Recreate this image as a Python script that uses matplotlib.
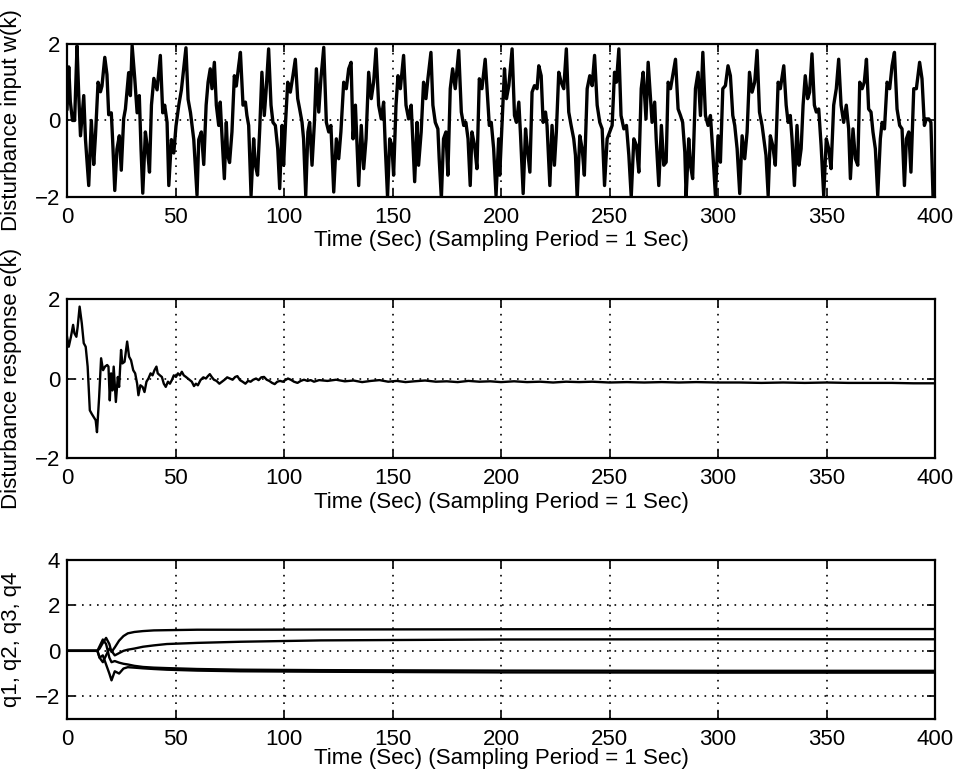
import matplotlib.pyplot as plt

plt.rcParams['font.family'] = ['Liberation Sans', 'DejaVu Sans']
plt.rcParams['font.size'] = 16

# disturbance input w(k) (peaks / troughs / bends)
w_time = [0, 0.8, 1.5, 2.5, 3.5, 4.6, 5.4, 6.2, 7.7, 8.5,
          10.0, 11.2, 12.3, 13.1, 14.3, 15.4, 16.1, 17.4, 18.4, 19.2,
          20.4, 21.0, 22.0, 23.0, 24.1, 25.0, 26.1, 26.9, 27.7, 28.4,
          29.2, 30.0, 31.2, 32.3, 33.3, 34.1, 34.9, 36.1, 36.9, 38.0,
          38.9, 40.0, 41.5, 43.0, 44.1, 45.0, 46.1, 46.9, 48.1, 49.2,
          50.2, 51.5, 52.7, 54.8, 55.8, 56.9, 58.4, 59.9, 60.7, 61.9,
          63.0, 64.1, 65.0, 66.0, 66.8, 67.9, 68.8, 69.9, 70.6, 71.4,
          72.5, 73.4, 74.0, 74.9, 76.0, 77.1, 78.0, 79.1, 79.9, 81.1,
          82.2, 82.9, 83.7, 84.8, 86.0, 86.8, 87.8, 88.8, 89.8, 90.9,
          91.8, 92.9, 94.0, 94.9, 96.0, 97.1, 98.0, 99.1, 99.8, 100.7,
          101.7, 102.9, 104.1, 105.2, 106.3, 107.2, 108.3, 109.0, 110.0, 111.0,
          111.8, 112.9, 114.0, 114.9, 116.0, 117.0, 118.3, 119.5, 120.6, 121.6,
          122.9, 124.1, 125.2, 126.2, 127.5, 128.7, 129.8, 130.9, 131.8, 132.9,
          134.4, 135.6, 136.7, 137.8, 139.0, 140.2, 141.3, 142.4, 143.6, 144.8,
          145.9, 146.7, 147.7, 148.7, 149.7, 150.5, 151.6, 152.5, 153.6, 155.1,
          156.2, 157.4, 158.6, 159.3, 160.2, 161.3, 162.0, 163.2, 164.3, 165.4,
          166.3, 167.7, 168.6, 169.7, 170.9, 171.5, 172.5, 173.5, 174.6, 175.5,
          176.6, 177.7, 178.9, 180.5, 181.7, 182.8, 183.8, 184.8, 185.8, 186.6,
          187.8, 188.9, 190.0, 191.2, 192.7, 194.0, 194.6, 195.5, 196.6, 197.7,
          198.9, 199.4, 200.5, 201.6, 202.5, 203.6, 205.1, 206.2, 207.1, 208.2,
          209.0, 210.2, 211.3, 212.0, 213.3, 214.3, 215.4, 216.6, 217.4, 218.5,
          219.4, 220.5, 221.2, 222.5, 223.5, 224.6, 225.5, 226.6, 227.7, 228.9,
          230.1, 231.2, 232.3, 233.5, 234.3, 235.1, 236.3, 237.4, 238.4, 239.7,
          240.9, 242.0, 243.1, 244.3, 245.5, 246.6, 247.7, 248.9, 250.1, 251.2,
          252.3, 253.2, 254.3, 255.3, 256.6, 257.8, 258.9, 260.0, 261.2, 262.4,
          263.5, 264.6, 265.5, 266.8, 267.8, 268.8, 269.6, 270.8, 271.5, 272.7,
          273.9, 275.0, 276.1, 277.0, 278.1, 279.1, 280.4, 281.6, 282.7, 283.7,
          284.7, 285.3, 286.5, 287.3, 288.3, 289.6, 290.8, 291.9, 293.0, 294.2,
          295.4, 296.5, 297.6, 298.8, 300.0, 301.1, 302.2, 303.4, 304.6, 305.7,
          306.8, 307.7, 308.8, 310.0, 311.1, 312.3, 313.4, 314.5, 315.7, 316.9,
          318.0, 319.1, 320.3, 321.1, 322.1, 323.1, 324.1, 325.2, 326.4, 327.7,
          328.7, 330.3, 331.4, 332.3, 333.3, 334.1, 335.2, 336.4, 337.3, 338.3,
          339.2, 340.2, 341.3, 342.2, 343.3, 344.4, 345.3, 346.4, 347.5, 348.7,
          349.9, 351.0, 352.1, 353.3, 354.5, 355.6, 356.7, 357.9, 359.1, 360.2,
          361.0, 362.2, 363.3, 364.4, 365.3, 366.4, 367.4, 368.4, 369.4, 370.5,
          371.4, 372.5, 373.6, 374.8, 375.6, 376.7, 377.9, 379.1, 380.2, 381.3,
          382.5, 383.7, 384.8, 385.9, 386.8, 387.9, 388.9, 390.2, 391.4, 392.9,
          394.0, 395.1, 396.0, 397.1, 398.1, 399.1, 400.0]
w_value = [0.3, 1.4, 0.5, 0.0, 0.0, 1.95, 0.65, -0.4, 0.65, -0.5,
           -1.7, 0.0, -1.15, -0.4, 1.0, 0.75, 0.9, 1.65, 1.2, 0.15,
           0.2, -0.5, -1.83, -0.75, -0.4, -1.3, 0.05, 0.3, 0.8, 1.25,
           0.65, 1.96, 1.1, 0.2, 0.65, -0.75, -1.9, -0.3, -0.65, -1.35,
           0.4, 1.1, 0.8, 1.7, 0.2, 0.4, -0.05, -1.7, -0.5, -0.85,
           -0.15, 0.4, 0.8, 1.9, 0.55, 0.2, -0.5, -1.95, -0.5, -0.3,
           -1.15, 0.4, 1.0, 1.35, 0.83, 1.52, 0.4, -0.13, 0.48, -0.4,
           -1.52, -0.05, -0.9, -1.1, -0.3, 1.17, 0.9, 1.43, 1.78, 0.4,
           0.48, 0.13, -0.13, -1.96, -0.48, -1.17, -1.43, -0.22, 1.26, 0.13,
           0.83, 1.87, 0.4, -0.05, -0.13, -0.74, -1.78, -0.13, -1.17, -0.05,
           1.0, 0.74, 1.17, 1.6, 0.57, 0.3, -0.05, -0.48, -1.96, -0.3,
           -0.05, -1.17, -0.05, 1.35, 0.22, 1.09, 1.91, -0.05, -0.3, -0.13,
           -1.87, -0.48, -1.0, -0.3, 1.0, 0.83, 1.35, 1.52, -0.48, 0.4,
           -1.7, -0.13, -1.26, -0.48, 1.26, 0.57, 1.0, 1.87, 0.4, 0.04,
           0.48, -0.74, -2.0, -0.48, -0.65, -1.43, 0.4, 1.17, 0.83, 1.7,
           0.4, 0.04, 0.4, -0.48, -1.6, -0.05, -1.17, -0.3, 1.0, 0.57,
           1.09, 1.78, 0.4, -0.05, -0.22, -1.0, -2.04, -0.48, -0.3, -1.43,
           0.83, 1.35, 0.83, 1.83, 0.22, -0.13, -0.05, -0.48, -1.7, -0.3,
           -0.65, -1.26, 1.09, 0.83, 1.6, 0.4, -0.13, -0.05, -0.74, -1.96,
           -0.48, -1.43, -0.05, 1.35, 0.57, 0.91, 1.87, 0.13, -0.05, 0.48,
           -0.4, -1.91, -0.22, -0.65, -1.35, 0.74, 0.91, 0.83, 1.43, 1.17,
           -0.05, 0.22, -0.13, -1.7, -0.13, -1.17, -0.3, 1.26, 1.0, 0.83,
           1.87, 0.22, -0.13, -0.48, -0.91, -2.04, -0.4, -0.74, -1.43, 0.83,
           1.17, 0.91, 1.7, 0.4, -0.05, -0.22, -1.7, -0.48, -0.3, -0.13,
           1.26, 1.0, 1.87, 0.13, -0.22, -0.13, -0.91, -2.0, -0.48, -0.65,
           -1.35, 0.83, 1.26, 0.04, 1.52, 0.65, -0.05, 0.48, -0.48, -1.7,
           -0.13, -1.17, -1.09, 1.0, 0.83, 1.17, 1.6, 0.3, 0.13, -0.05,
           -0.83, -2.0, -0.48, -1.17, -1.52, 0.83, 1.26, 0.13, 1.78, 0.13,
           -0.13, 0.13, -0.83, -1.96, -0.4, -1.09, 0.83, 0.91, 1.43, 1.17,
           0.13, -0.13, -0.74, -1.91, -0.4, -1.0, -0.3, 1.26, 0.74, 1.0,
           1.83, 0.22, -0.13, -0.48, -0.91, -1.96, -0.4, -0.65, -1.17, 1.0,
           0.83, 1.43, 0.4, -0.05, 0.13, -0.48, -1.7, -0.13, -1.17, -0.74,
           0.4, 1.17, 0.57, 0.74, 1.74, 0.4, 0.22, 0.3, -0.65, -1.96,
           -0.48, -0.74, -1.26, 0.4, 0.83, 1.6, 0.4, -0.05, 0.4, -0.22,
           -1.52, -0.22, -1.0, -1.17, 1.0, 0.83, 1.0, 1.6, 0.3, 0.22,
           -0.3, -0.74, -1.96, -0.48, -0.05, -0.22, 1.0, 0.83, 1.43, 1.78,
           0.3, -0.13, -0.22, -1.7, -0.48, -0.3, -1.35, 0.83, 0.83, 1.52,
           1.09, -0.13, 0.04, 0.04, -0.05, -2.04, -2.0]

# disturbance response e(k)
e_time = [0, 0.8, 1.8, 2.8, 3.4, 4.3, 4.9, 5.8, 6.8, 7.7,
          8.6, 9.5, 10.5, 11.4, 12.3, 13.2, 13.8, 14.8, 15.7, 16.6,
          17.5, 18.5, 19.1, 19.7, 20.3, 20.9, 21.5, 22.5, 23.4, 24.0,
          24.9, 25.5, 26.5, 27.7, 28.6, 29.5, 30.5, 31.4, 32.3, 32.9,
          33.8, 34.8, 35.7, 36.6, 37.5, 38.5, 39.4, 40.3, 41.2, 41.8,
          42.8, 43.7, 44.6, 45.5, 46.5, 47.4, 48.3, 49.2, 50.2, 51.1,
          52.0, 52.9, 53.8, 54.8, 55.7, 56.6, 57.5, 58.5, 59.4, 60.3,
          61.5, 62.8, 64.0, 64.9, 65.8, 66.8, 67.7, 68.9, 70.2, 71.4,
          72.6, 73.8, 75.1, 76.3, 77.5, 78.5, 79.7, 80.9, 82.2, 83.4,
          84.6, 85.8, 87.1, 88.3, 89.5, 90.8, 92.0, 93.2, 94.5, 95.7,
          96.9, 98.2, 99.4, 100.6, 101.8, 103.1, 104.6, 106.2, 107.7, 109.2,
          110.8, 112.3, 113.8, 116.2, 120, 124, 128, 132, 136, 140,
          144, 148, 152, 156, 160, 165, 170, 175, 180, 185,
          190, 195, 200, 206, 212, 218, 224, 230, 236, 242,
          250, 258, 266, 274, 282, 290, 300, 310, 320, 330,
          340, 350, 360, 370, 380, 390, 400]
e_value = [1.05, 0.8, 1.05, 1.35, 1.14, 1.05, 1.3, 1.81, 1.39, 0.89,
           0.8, 0.3, -0.8, -0.89, -0.97, -1.05, -1.35, -0.46, 0.51, 0.21,
           0.3, 0.34, 0.3, -0.55, 0.13, -0.3, 0.3, -0.59, 0.04, -0.21,
           0.72, 0.38, 0.42, 0.93, 0.55, 0.46, 0.21, 0.13, -0.13, -0.42,
           -0.17, -0.21, -0.34, -0.08, 0.0, 0.13, 0.08, 0.21, 0.3, 0.13,
           0.08, 0.04, -0.13, -0.21, -0.08, -0.13, -0.04, 0.08, 0.04, 0.13,
           0.08, 0.17, 0.08, 0.04, 0.0, -0.04, -0.08, -0.19, -0.13, -0.17,
           -0.04, 0.03, 0.0, 0.06, 0.11, 0.03, -0.03, -0.06, -0.13, -0.08,
           -0.03, 0.03, 0.0, -0.03, 0.04, 0.06, -0.04, -0.08, -0.13, -0.06,
           -0.08, -0.03, 0.0, -0.04, 0.03, 0.04, -0.03, -0.06, -0.11, -0.14,
           -0.08, -0.06, -0.08, -0.04, 0.0, -0.03, -0.08, -0.11, -0.06, -0.03,
           -0.06, -0.04, -0.08, -0.04, -0.06, -0.03, -0.07, -0.05, -0.09, -0.06,
           -0.04, -0.08, -0.06, -0.09, -0.07, -0.05, -0.08, -0.07, -0.09, -0.06,
           -0.08, -0.07, -0.09, -0.07, -0.09, -0.08, -0.1, -0.08, -0.09, -0.08,
           -0.1, -0.09, -0.1, -0.09, -0.1, -0.09, -0.1, -0.1, -0.11, -0.1,
           -0.11, -0.1, -0.11, -0.11, -0.11, -0.12, -0.12]

# adapted parameters q1..q4
q_time = [0, 14, 15, 16.5, 18, 19.5, 20.5, 22, 24, 26,
          28, 31, 35, 40, 46, 60, 80, 117, 200, 300, 400]
q1 = [0, 0, 0.1, 0.35, 0.57, 0.3, -0.05, 0.15, 0.45, 0.65,
      0.77, 0.83, 0.87, 0.9, 0.91, 0.93, 0.93, 0.94, 0.95, 0.96, 0.96]
q2 = [0, 0, -0.3, -0.5, -0.2, 0.1, 0.0, -0.2, -0.1, 0.0,
      0.05, 0.1, 0.18, 0.24, 0.3, 0.35, 0.4, 0.46, 0.5, 0.51, 0.51]
q3 = [0, 0, 0.2, 0.5, 0.3, -0.3, -0.5, -0.45, -0.52, -0.57,
      -0.6, -0.66, -0.71, -0.74, -0.76, -0.8, -0.83, -0.85, -0.87, -0.88, -0.88]
q4 = [0, 0, -0.3, -0.2, -0.6, -1.0, -1.3, -0.9, -1.0, -0.78,
      -0.72, -0.74, -0.77, -0.8, -0.83, -0.87, -0.9, -0.92, -0.95, -0.96, -0.96]

x_ticks = [0, 50, 100, 150, 200, 250, 300, 350, 400]
xlabel = 'Time (Sec) (Sampling Period = 1 Sec)'

fig = plt.figure(figsize=(9.59, 7.82), dpi=100)

ax1 = fig.add_axes([0.0699, 0.7481, 0.9051, 0.1957])
ax2 = fig.add_axes([0.0699, 0.4143, 0.9051, 0.2033])
ax3 = fig.add_axes([0.0699, 0.0806, 0.9051, 0.2033])

ax1.plot(w_time, w_value, color='black', lw=2.4)
ax2.plot(e_time, e_value, color='black', lw=1.7)
for q in (q1, q2, q3, q4):
    ax3.plot(q_time, q, color='black', lw=1.7)

ax1.set_ylim(-2, 2)
ax2.set_ylim(-2, 2)
ax3.set_ylim(-3, 4)
ax1.set_yticks([-2, 0, 2])
ax2.set_yticks([-2, 0, 2])
ax3.set_yticks([-2, 0, 2, 4])

ax1.set_ylabel('Disturbance input w(k)')
ax2.set_ylabel('Disturbance response e(k)')
ax3.set_ylabel('q1, q2, q3, q4')

for ax, lp in ((ax1, 2), (ax2, 2), (ax3, -1)):
    ax.set_xlim(0, 400)
    ax.set_xticks(x_ticks)
    ax.set_xlabel(xlabel, labelpad=lp)
    ax.grid(True, color='black', linestyle=(0, (1, 3.5)), lw=1.2)
    ax.tick_params(direction='in', top=True, right=True, length=6, width=1.2,
                   labelsize=16)
    ax.tick_params(axis='x', pad=7)
    ax.tick_params(axis='y', pad=5)
    for s in ax.spines.values():
        s.set_linewidth(1.6)
    ax.yaxis.set_label_coords(-0.052, 0.5)

fig.savefig('out.png', dpi=100)
